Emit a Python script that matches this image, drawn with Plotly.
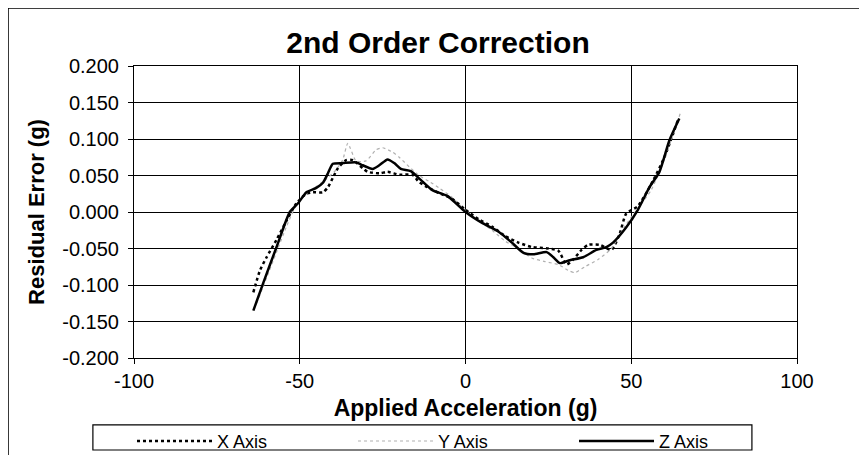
import plotly.graph_objects as go

# applied acceleration (g) and residual error (g) per axis
x_axis_g = [-64, -62, -60, -57, -54, -51, -48, -46, -43, -41.5, -40, -38.5, -36, -34,
            -31, -29.5, -26, -23.5, -20, -16, -14, -11.5, -8, -4, 0, 4, 8, 12, 16, 20,
            25, 28, 30.5, 32.5, 35, 37, 40.5, 44, 46.5, 48.5, 52, 56, 60, 64]
x_axis_err = [-0.110, -0.080, -0.062, -0.038, -0.012, 0.012, 0.025, 0.027, 0.027, 0.034,
              0.047, 0.060, 0.071, 0.071, 0.060, 0.055, 0.053, 0.055, 0.051, 0.051, 0.041,
              0.034, 0.026, 0.018, 0.003, -0.010, -0.020, -0.033, -0.042, -0.048, -0.050,
              -0.053, -0.072, -0.065, -0.052, -0.045, -0.045, -0.052, -0.030, -0.002,
              0.008, 0.038, 0.075, 0.125]

y_axis_g = [-63, -60, -57, -54, -51, -48, -45, -42, -39, -37, -35.5, -33, -30, -27, -25,
            -22, -20, -17, -14, -11, -8, -4, 0, 4, 8, 12, 16, 20, 24, 28, 31, 33, 36, 40,
            44, 48, 52, 56, 60, 65]
y_axis_err = [-0.125, -0.090, -0.055, -0.020, 0.010, 0.025, 0.035, 0.045, 0.058, 0.072,
              0.094, 0.070, 0.070, 0.085, 0.088, 0.082, 0.075, 0.062, 0.050, 0.042, 0.033,
              0.020, 0.002, -0.012, -0.025, -0.040, -0.050, -0.063, -0.068, -0.072, -0.080,
              -0.083, -0.075, -0.065, -0.050, -0.020, 0.005, 0.030, 0.072, 0.138]

z_axis_g = [-64, -61, -57, -53, -50.5, -48, -45, -43, -41.5, -40, -37, -33, -31, -28, -26,
            -23.5, -21.5, -19.5, -16.5, -13.5, -10, -5.5, 0, 5, 10, 14, 17.5, 20.5, 24.5,
            26.5, 28.5, 31.5, 35.5, 39.5, 42.5, 44.5, 48.5, 52, 55.5, 58.5, 61.5, 64.5]
z_axis_err = [-0.135, -0.097, -0.048, 0.0, 0.012, 0.027, 0.033, 0.040, 0.053, 0.066, 0.067,
              0.068, 0.064, 0.059, 0.064, 0.072, 0.067, 0.059, 0.056, 0.044, 0.030, 0.022,
              0.0, -0.015, -0.027, -0.042, -0.056, -0.058, -0.055, -0.062, -0.070, -0.066,
              -0.062, -0.052, -0.048, -0.042, -0.021, 0.003, 0.034, 0.055, 0.098, 0.128]

# tick labels as printed (plain hyphen, not the unicode minus)
x_ticks = [-100, -50, 0, 50, 100]
x_tick_text = ['-100', '-50', '0', '50', '100']
y_ticks = [0.2, 0.15, 0.1, 0.05, 0.0, -0.05, -0.1, -0.15, -0.2]
y_tick_text = ['0.200', '0.150', '0.100', '0.050', '0.000', '-0.050', '-0.100', '-0.150', '-0.200']

FONT = 'Liberation Sans, Arial, sans-serif'

fig = go.Figure()
fig.add_trace(go.Scatter(name='X Axis', x=x_axis_g, y=x_axis_err, mode='lines',
                         line=dict(color='black', width=2.5, dash='dot', shape='spline', smoothing=0.6)))
fig.add_trace(go.Scatter(name='Y Axis', x=y_axis_g, y=y_axis_err, mode='lines',
                         line=dict(color='#b0b0b0', width=1.2, dash='dot', shape='spline', smoothing=0.6)))
fig.add_trace(go.Scatter(name='Z Axis', x=z_axis_g, y=z_axis_err, mode='lines',
                         line=dict(color='black', width=2.5, shape='spline', smoothing=0.6)))

fig.update_xaxes(range=[-100, 100], tickvals=x_ticks, ticktext=x_tick_text,
                 showgrid=True, gridcolor='black', gridwidth=1, zeroline=False,
                 showline=True, linecolor='black', linewidth=1, mirror=True,
                 ticks='outside', ticklen=5, tickcolor='black', automargin=False,
                 tickfont=dict(size=20, color='black', family=FONT),
                 title=dict(text='<b>Applied Acceleration (g)</b>', standoff=8,
                            font=dict(size=23, color='black', family=FONT)))
fig.update_yaxes(range=[-0.2, 0.2], tickvals=y_ticks, ticktext=y_tick_text,
                 showgrid=True, gridcolor='black', gridwidth=1, zeroline=False,
                 showline=True, linecolor='black', linewidth=1, mirror=True,
                 ticks='outside', ticklen=5, tickcolor='black', automargin=False,
                 ticklabelstandoff=5,
                 tickfont=dict(size=20, color='black', family=FONT),
                 title=dict(text='<b>Residual Error (g)</b>', standoff=11,
                            font=dict(size=22, color='black', family=FONT)))

# the page puts the figure 8px in from the window corner, so margins are trimmed to suit
fig.update_layout(
    width=867, height=455,
    margin=dict(l=126, r=78, t=58, b=105, autoexpand=False),
    paper_bgcolor='white', plot_bgcolor='white',
    font=dict(family=FONT, color='black'),
    title=dict(text='<b>2nd Order Correction</b>', xref='container', x=0.496,
               xanchor='center', y=0.925, yanchor='middle',
               font=dict(size=30, color='black', family=FONT)),
    showlegend=True,
    legend=dict(orientation='h', x=-0.003, xanchor='left', y=-0.222, yanchor='top',
                borderwidth=0, bgcolor='rgba(0,0,0,0)',
                entrywidth=131, itemwidth=75, tracegroupgap=0,
                font=dict(size=18, color='black', family=FONT)),
    shapes=[
        # chart-area border
        dict(type='rect', xref='paper', yref='paper', x0=-0.190, x1=1.098,
             y0=-0.35, y1=1.199, line=dict(color='black', width=1.5)),
        # legend box
        dict(type='rect', xref='paper', yref='paper', x0=-0.062, x1=0.932,
             y0=-0.315, y1=-0.229, line=dict(color='black', width=1.2), layer='below'),
    ],
)

fig.write_html("out.html")
